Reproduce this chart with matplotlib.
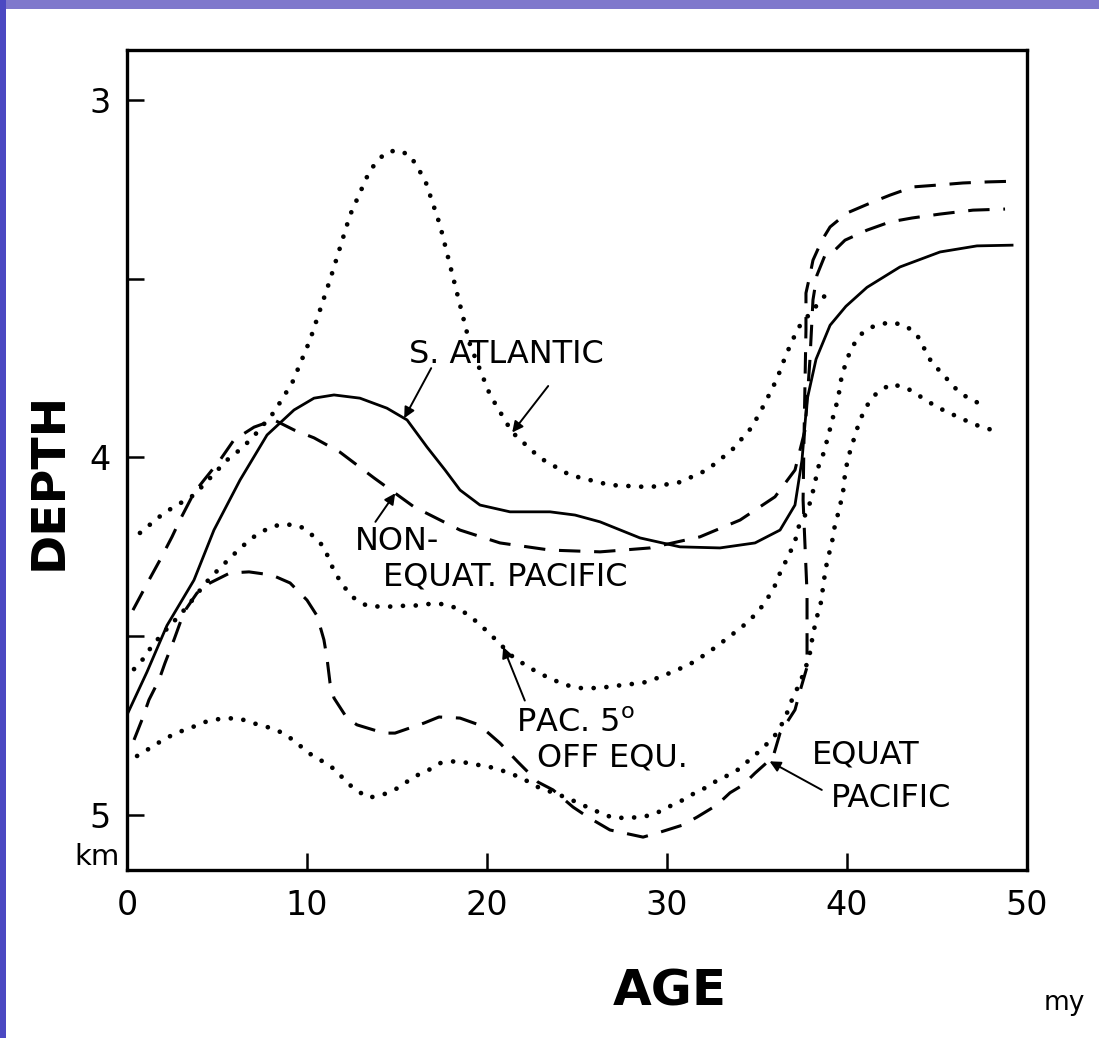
import matplotlib
matplotlib.use("Agg")
import matplotlib.pyplot as plt
from matplotlib.patches import Rectangle

# ---- data (age in my, depth in km) ----
satl_solid_age = [0.0, 1.11, 2.22, 3.72, 4.83, 6.28, 7.78, 9.28, 10.39, 11.5, 12.94, 14.44, 15.56,
                  16.67, 17.67, 18.5, 19.61, 21.28, 23.5, 24.89, 26.28, 28.5, 30.72, 32.94, 34.89,
                  36.28, 37.11, 37.5, 37.78, 38.28, 39.06, 39.94, 41.11, 42.94, 45.17, 47.22, 49.17]
satl_solid_depth = [4.72, 4.60, 4.47, 4.343, 4.203, 4.063, 3.937, 3.867, 3.834, 3.825, 3.834, 3.862, 3.895,
                    3.971, 4.035, 4.091, 4.133, 4.152, 4.152, 4.161, 4.180, 4.225, 4.250, 4.253, 4.239,
                    4.203, 4.133, 4.007, 3.839, 3.725, 3.630, 3.577, 3.524, 3.467, 3.425, 3.408, 3.406]

satl_dot_age = [0.72, 1.39, 2.06, 2.89, 3.72, 5.56, 6.33, 7.0, 8.17, 8.72, 9.17, 10.17, 11.28, 12.39,
                13.5, 14.33, 15.0, 15.72, 16.56, 17.39, 18.22, 19.06, 20.17, 21.39, 22.94, 24.6,
                26.83, 29.06, 30.72, 32.22, 33.61, 34.72, 35.44, 36.11, 36.61, 37.28, 37.78, 38.89]
satl_dot_depth = [4.211, 4.183, 4.155, 4.130, 4.105, 4.007, 3.976, 3.943, 3.873, 3.828, 3.792, 3.671,
                  3.503, 3.322, 3.196, 3.148, 3.140, 3.154, 3.224, 3.350, 3.517, 3.685, 3.825, 3.929,
                  4.001, 4.049, 4.077, 4.083, 4.069, 4.035, 3.979, 3.915, 3.848, 3.780, 3.713, 3.638,
                  3.607, 3.540]

nonequ_age = [0.33, 1.22, 1.83, 2.5, 2.94, 3.72, 4.28, 5.17, 5.94, 7.06, 8.17, 9.28, 10.39, 11.83,
              13.72, 15.94, 18.5, 20.72, 23.5, 26.28, 29.06, 31.83, 34.06, 36.0, 37.11, 37.67,
              37.94, 38.11, 38.33, 38.78, 39.22, 39.89, 41.11, 42.39, 43.61, 45.17, 47.0, 48.78]
nonequ_depth = [4.427, 4.343, 4.287, 4.222, 4.175, 4.099, 4.063, 4.007, 3.951, 3.915, 3.895, 3.923,
                3.945, 3.985, 4.057, 4.138, 4.203, 4.239, 4.259, 4.264, 4.253, 4.222, 4.175, 4.110,
                4.035, 3.923, 3.727, 3.559, 3.490, 3.434, 3.425, 3.392, 3.364, 3.341, 3.330, 3.319,
                3.308, 3.305]

equ_dash_age = [0.39, 0.83, 1.22, 1.78, 2.11, 2.61, 3.17, 3.89, 4.61, 5.72, 6.78, 8.06, 9.06, 10.0,
                10.56, 10.94, 11.11, 11.28, 11.5, 12.22, 12.78, 14.28, 14.89, 16.5, 17.33, 18.5,
                19.56, 20.72, 21.72, 22.83, 23.67, 24.78, 25.61, 26.83, 27.56, 28.67, 29.5, 30.89,
                31.67, 32.78, 33.5, 34.22, 34.89, 35.89, 36.28, 37.11, 37.44, 37.78, 37.78, 37.78,
                37.67, 37.56, 37.61, 37.67, 37.72, 37.72, 37.94, 38.11, 38.61, 39.06, 40.0, 41.44,
                42.39, 43.67, 45.0, 46.44, 47.83, 49.33]
equ_dash_depth = [4.790, 4.734, 4.678, 4.622, 4.575, 4.510, 4.432, 4.379, 4.351, 4.323, 4.320, 4.329,
                  4.351, 4.399, 4.443, 4.510, 4.561, 4.631, 4.673, 4.729, 4.748, 4.771, 4.771, 4.743,
                  4.726, 4.729, 4.748, 4.799, 4.852, 4.908, 4.930, 4.978, 5.006, 5.042, 5.050, 5.062,
                  5.050, 5.028, 5.006, 4.972, 4.938, 4.916, 4.883, 4.838, 4.771, 4.706, 4.645, 4.586,
                  4.491, 4.379, 4.250, 4.119, 3.951, 3.783, 3.643, 3.540, 3.490, 3.448, 3.392, 3.355,
                  3.316, 3.285, 3.266, 3.243, 3.238, 3.232, 3.229, 3.227]

pac5_age = [0.39, 0.89, 1.39, 2.06, 2.67, 3.33, 4.06, 4.61, 5.17, 5.89, 6.56, 7.17, 8.0, 8.72, 9.61,
            10.22, 10.94, 11.28, 11.56, 12.06, 12.61, 13.33, 14.33, 15.22, 15.89, 16.67, 17.56,
            18.5, 19.44, 20.11, 20.83, 21.44, 22.39, 23.33, 24.33, 25.22, 26.22, 27.11, 28.0,
            28.89, 29.61, 30.44, 31.28, 32.0, 32.72, 33.44, 34.17, 34.83, 35.39, 35.94, 36.28,
            36.72, 37.11, 37.28, 37.83, 38.17, 38.39, 38.72, 39.0, 39.28, 39.5, 39.67, 39.94,
            40.28, 40.78, 41.5, 42.44, 43.28, 43.89, 44.28, 44.72, 45.28, 45.94, 46.72, 47.67]
pac5_depth = [4.592, 4.564, 4.527, 4.488, 4.455, 4.418, 4.371, 4.337, 4.309, 4.273, 4.242, 4.217,
              4.194, 4.186, 4.192, 4.214, 4.250, 4.292, 4.323, 4.362, 4.393, 4.415, 4.418, 4.415,
              4.415, 4.410, 4.410, 4.424, 4.460, 4.491, 4.527, 4.558, 4.589, 4.614, 4.636, 4.645,
              4.645, 4.639, 4.634, 4.628, 4.614, 4.597, 4.578, 4.555, 4.530, 4.502, 4.474, 4.443,
              4.410, 4.365, 4.323, 4.278, 4.236, 4.197, 4.147, 4.083, 4.029, 3.985, 3.931, 3.876,
              3.836, 3.783, 3.733, 3.691, 3.655, 3.632, 3.621, 3.632, 3.657, 3.694, 3.736, 3.764,
              3.803, 3.834, 3.856]

equ_dot_age = [0.56, 1.28, 2.0, 2.72, 3.5, 4.33, 5.17, 6.17, 7.0, 8.0, 8.67, 9.39, 10.0, 10.83, 11.5,
               12.0, 12.61, 13.44, 14.33, 15.17, 15.89, 16.67, 17.39, 18.33, 19.17, 20.17, 21.11,
               21.94, 22.83, 24.44, 25.44, 26.28, 27.0, 27.78, 28.61, 29.33, 30.06, 30.89, 31.56,
               32.22, 32.83, 33.78, 34.44, 35.33, 36.11, 36.56, 36.94, 37.33, 37.67, 37.94, 38.11,
               38.33, 38.56, 38.72, 38.89, 39.17, 39.33, 39.56, 39.78, 39.89, 40.06, 40.33, 40.61,
               41.0, 41.61, 42.44, 43.33, 44.22, 45.0, 45.72, 46.39, 47.33, 48.06]
equ_dot_depth = [4.835, 4.813, 4.790, 4.771, 4.757, 4.740, 4.731, 4.729, 4.743, 4.757, 4.771, 4.796,
                 4.824, 4.849, 4.871, 4.897, 4.927, 4.952, 4.941, 4.922, 4.894, 4.877, 4.855, 4.849,
                 4.857, 4.866, 4.880, 4.897, 4.922, 4.952, 4.975, 4.994, 5.008, 5.008, 5.006, 4.997,
                 4.978, 4.958, 4.938, 4.922, 4.902, 4.880, 4.852, 4.813, 4.771, 4.729, 4.678, 4.636,
                 4.594, 4.547, 4.494, 4.446, 4.404, 4.343, 4.292, 4.236, 4.189, 4.147, 4.097, 4.046,
                 4.001, 3.957, 3.912, 3.862, 3.822, 3.794, 3.806, 3.834, 3.859, 3.876, 3.892, 3.912,
                 3.923]

x_ticks = [0, 10, 20, 30, 40, 50]
y_ticks = [3, 3.5, 4, 4.5, 5]
y_labels = ["3", "", "4", "", "5"]

W, H = 1099, 1038
fig = plt.figure(figsize=(W / 100, H / 100), dpi=100)
fig.patch.set_facecolor("white")
# slide background strips
fig.patches.append(Rectangle((0, 1 - 9 / H), 1, 9 / H, transform=fig.transFigure,
                             facecolor="#7f78cc", edgecolor="none", zorder=0))
fig.patches.append(Rectangle((0, 0), 6 / W, 1, transform=fig.transFigure,
                             facecolor="#4b48c2", edgecolor="none", zorder=0))

ax = fig.add_axes([127 / W, 1 - 870 / H, 900 / W, 820 / H])
ax.set_xlim(0, 50)
ax.set_ylim(5.154, 2.86)

dot = dict(color="black", lw=3.4, linestyle=(0, (0.01, 2.7)), dash_capstyle="round")
dash = dict(color="black", lw=2.2, linestyle=(0, (7, 4.5)))

ax.plot(satl_solid_age, satl_solid_depth, color="black", lw=2.0)
ax.plot(satl_dot_age, satl_dot_depth, **dot)
ax.plot(nonequ_age, nonequ_depth, **dash)
ax.plot(equ_dash_age, equ_dash_depth, **dash)
ax.plot(pac5_age, pac5_depth, **dot)
ax.plot(equ_dot_age, equ_dot_depth, **dot)

for s in ax.spines.values():
    s.set_linewidth(2.4)

ax.set_xticks(x_ticks)
ax.set_xticklabels([str(t) for t in x_ticks])
ax.set_yticks(y_ticks)
ax.set_yticklabels(y_labels)
ax.tick_params(direction="in", length=12, width=1.8, labelsize=24, pad=14)
ax.tick_params(axis="y", pad=12)

txt = dict(fontsize=23, color="black")
arr = dict(arrowstyle="-|>", color="black", lw=1.4, mutation_scale=16, shrinkA=0, shrinkB=0)

ax.text(21.1, 3.713, "S. ATLANTIC", ha="center", va="center", **txt)
ax.annotate("", xy=(15.4, 3.89), xytext=(16.9, 3.75), arrowprops=arr)
ax.annotate("", xy=(21.4, 3.93), xytext=(23.4, 3.80), arrowprops=arr)

ax.text(12.67, 4.235, "NON-", ha="left", va="center", **txt)
ax.text(14.2, 4.335, "EQUAT. PACIFIC", ha="left", va="center", **txt)
ax.annotate("", xy=(14.9, 4.10), xytext=(13.8, 4.18), arrowprops=arr)

ax.text(21.6, 4.745, "PAC. 5$^\\mathregular{o}$", ha="left", va="center", **txt)
ax.text(22.8, 4.841, "OFF EQU.", ha="left", va="center", **txt)
ax.annotate("", xy=(20.9, 4.53), xytext=(22.1, 4.68), arrowprops=arr)

ax.text(38.06, 4.832, "EQUAT", ha="left", va="center", **txt)
ax.text(39.1, 4.955, "PACIFIC", ha="left", va="center", **txt)
ax.annotate("", xy=(35.7, 4.85), xytext=(38.6, 4.93), arrowprops=arr)

ax.text(-0.008, 0.016, "km", ha="right", va="center", fontsize=21, transform=ax.transAxes)
ax.text(1.042, -0.162, "my", ha="center", va="center", fontsize=19, transform=ax.transAxes)
ax.text(0.603, -0.148, "AGE", ha="center", va="center", fontsize=36, fontweight="bold",
        transform=ax.transAxes)
ax.text(-0.086, 0.475, "DEPTH", ha="center", va="center", fontsize=34, fontweight="bold",
        rotation=90, transform=ax.transAxes)

fig.savefig("out.png", dpi=100, facecolor=fig.get_facecolor())
